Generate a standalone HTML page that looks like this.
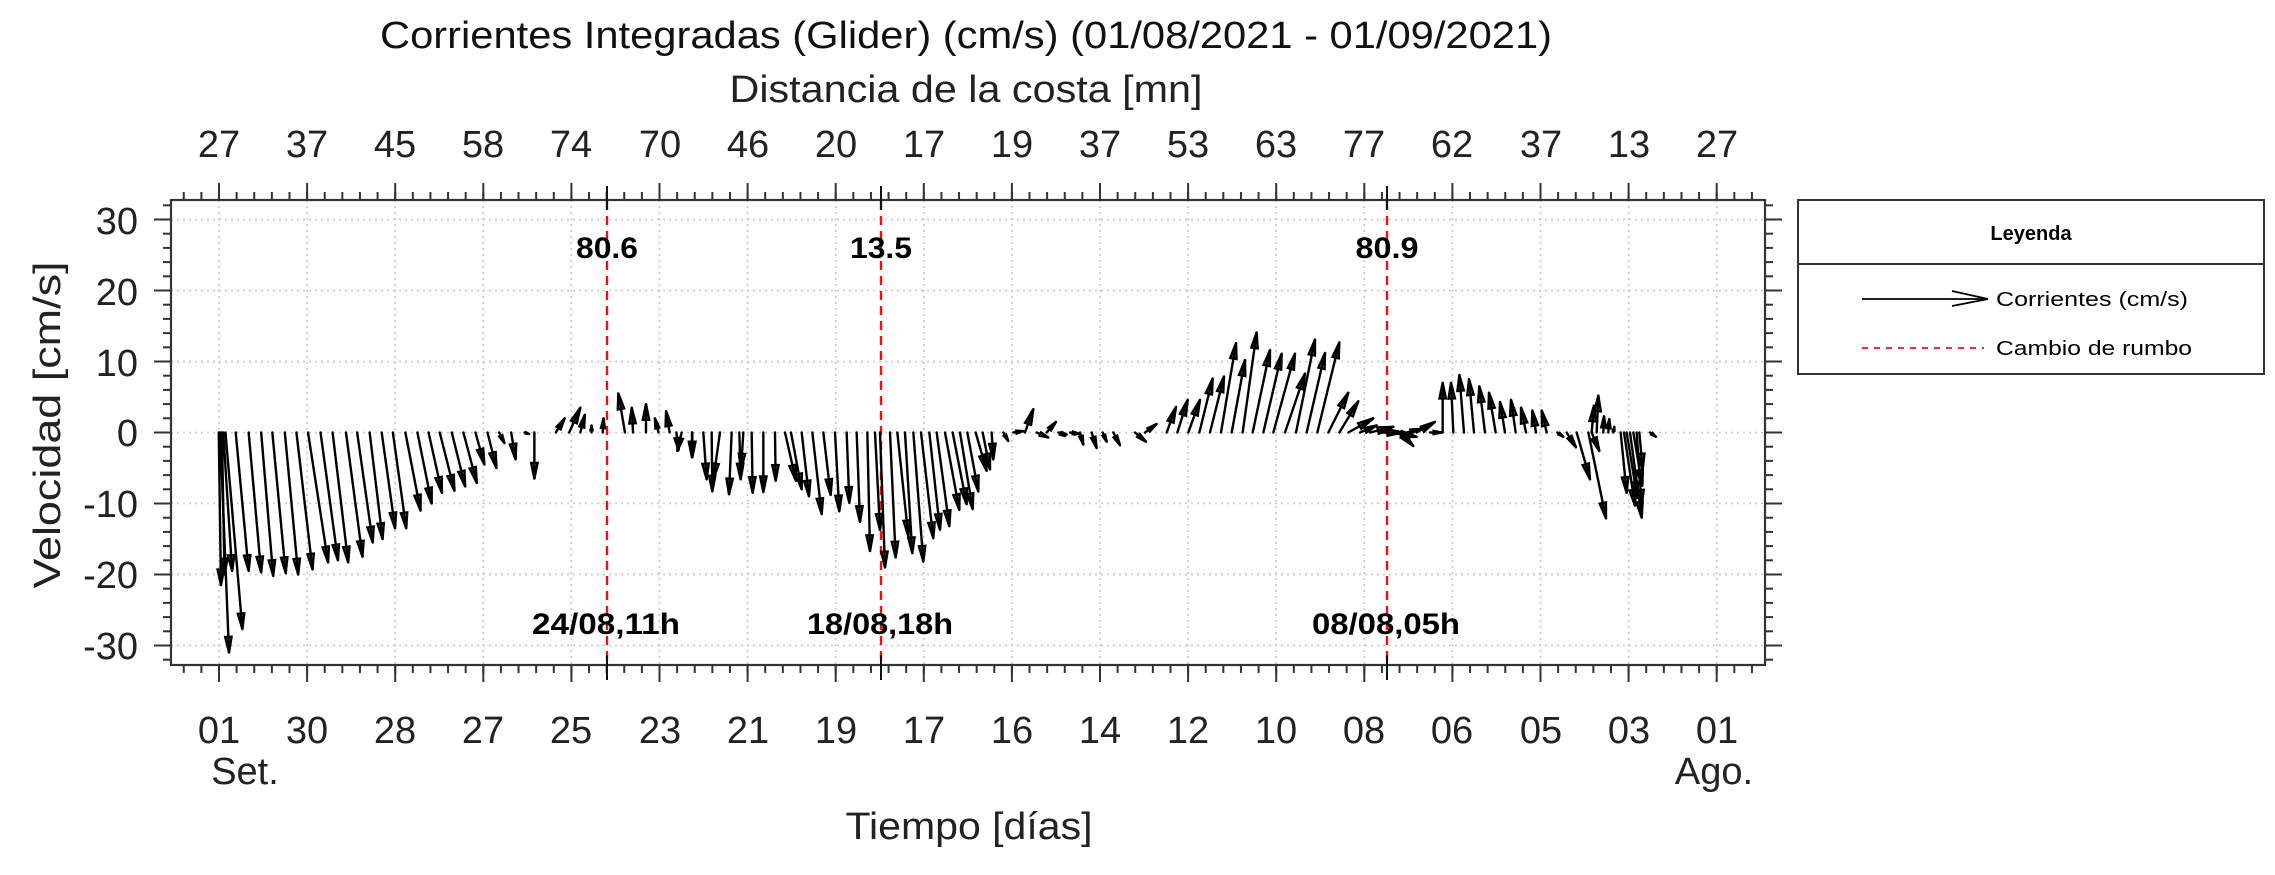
<!DOCTYPE html>
<html><head><meta charset="utf-8"><style>
html,body{margin:0;padding:0;background:#fff}
svg{display:block}
text{font-family:"Liberation Sans",Arial,sans-serif;fill:#222}
</style></head><body>
<svg id="s" xmlns="http://www.w3.org/2000/svg" width="2275" height="875" viewBox="0 0 2275 875">
<rect width="2275" height="875" fill="#fff"/>
<g id="grid" stroke="#c8c8c8" stroke-width="1.6" stroke-dasharray="2,4"></g>
<g id="ticks" stroke="#333" stroke-width="2"></g>
<rect x="171" y="200" width="1594" height="465" fill="none" stroke="#333" stroke-width="2.2"/>
<g stroke="#ee1111" stroke-width="2.4" stroke-dasharray="9,6">
<line x1="607" y1="201" x2="607" y2="664"/><line x1="881" y1="201" x2="881" y2="664"/><line x1="1387" y1="201" x2="1387" y2="664"/>
</g>
<g stroke="#111" stroke-width="2">
<line x1="607" y1="186" x2="607" y2="210"/><line x1="607" y1="655" x2="607" y2="680"/>
<line x1="881" y1="186" x2="881" y2="210"/><line x1="881" y1="655" x2="881" y2="680"/>
<line x1="1387" y1="186" x2="1387" y2="210"/><line x1="1387" y1="655" x2="1387" y2="680"/>
</g>
<g id="arrows" stroke="#000" stroke-width="2.4" fill="none" stroke-linecap="round" stroke-linejoin="miter"></g>

<text x="966" y="48" text-anchor="middle" font-size="38" textLength="1172" lengthAdjust="spacingAndGlyphs" style="fill:#111">Corrientes Integradas (Glider) (cm/s) (01/08/2021 - 01/09/2021)</text>
<text x="966" y="102" text-anchor="middle" font-size="38" textLength="473" lengthAdjust="spacingAndGlyphs">Distancia de la costa [mn]</text>
<g font-size="38" text-anchor="middle">
<text x="219" y="157">27</text><text x="307" y="157">37</text><text x="395" y="157">45</text><text x="483" y="157">58</text><text x="571" y="157">74</text><text x="660" y="157">70</text><text x="748" y="157">46</text><text x="836" y="157">20</text><text x="924" y="157">17</text><text x="1012" y="157">19</text><text x="1100" y="157">37</text><text x="1188" y="157">53</text><text x="1276" y="157">63</text><text x="1364" y="157">77</text><text x="1452" y="157">62</text><text x="1541" y="157">37</text><text x="1629" y="157">13</text><text x="1717" y="157">27</text>
<text x="219" y="743">01</text><text x="307" y="743">30</text><text x="395" y="743">28</text><text x="483" y="743">27</text><text x="571" y="743">25</text><text x="660" y="743">23</text><text x="748" y="743">21</text><text x="836" y="743">19</text><text x="924" y="743">17</text><text x="1012" y="743">16</text><text x="1100" y="743">14</text><text x="1188" y="743">12</text><text x="1276" y="743">10</text><text x="1364" y="743">08</text><text x="1452" y="743">06</text><text x="1541" y="743">05</text><text x="1629" y="743">03</text><text x="1717" y="743">01</text>
<text x="245" y="784">Set.</text><text x="1714" y="784">Ago.</text>
<text x="969" y="839" textLength="247" lengthAdjust="spacingAndGlyphs">Tiempo [días]</text>
</g>
<g font-size="38" text-anchor="end">
<text x="138" y="234">30</text><text x="138" y="305">20</text><text x="138" y="376">10</text><text x="138" y="446">0</text><text x="138" y="517">-10</text><text x="138" y="588">-20</text><text x="138" y="659">-30</text>
</g>
<text transform="translate(60,425) rotate(-90)" text-anchor="middle" font-size="38" textLength="327" lengthAdjust="spacingAndGlyphs">Velocidad [cm/s]</text>

<g font-size="30" font-weight="bold" text-anchor="middle" style="font-weight:bold">
<text x="607" y="258" textLength="62" lengthAdjust="spacingAndGlyphs" style="fill:#000">80.6</text>
<text x="881" y="258" textLength="62" lengthAdjust="spacingAndGlyphs" style="fill:#000">13.5</text>
<text x="1387" y="258" textLength="63" lengthAdjust="spacingAndGlyphs" style="fill:#000">80.9</text>
<text x="606" y="634" textLength="148" lengthAdjust="spacingAndGlyphs" style="fill:#000">24/08,11h</text>
<text x="880" y="634" textLength="146" lengthAdjust="spacingAndGlyphs" style="fill:#000">18/08,18h</text>
<text x="1386" y="634" textLength="148" lengthAdjust="spacingAndGlyphs" style="fill:#000">08/08,05h</text>
</g>

<rect x="1798" y="200" width="466" height="174" fill="none" stroke="#333" stroke-width="2"/>
<line x1="1798" y1="264" x2="2264" y2="264" stroke="#333" stroke-width="2"/>
<text x="2031" y="240" text-anchor="middle" font-size="20" font-weight="bold" style="fill:#000">Leyenda</text>
<line x1="1862" y1="299" x2="1988" y2="299" stroke="#000" stroke-width="1.8"/>
<polyline points="1952,291 1988,299 1952,306" fill="none" stroke="#000" stroke-width="1.8"/>
<text x="1996" y="306" font-size="20" textLength="192" lengthAdjust="spacingAndGlyphs" style="fill:#000">Corrientes (cm/s)</text>
<line x1="1862" y1="348" x2="1984" y2="348" stroke="#ee1111" stroke-width="1.8" stroke-dasharray="6,6"/>
<text x="1996" y="355" font-size="20" textLength="196" lengthAdjust="spacingAndGlyphs" style="fill:#000">Cambio de rumbo</text>
</svg>
<script>
(function(){
var NS="http://www.w3.org/2000/svg";
function el(p,t,a){var e=document.createElementNS(NS,t);for(var k in a)e.setAttribute(k,a[k]);p.appendChild(e);return e;}
var g=document.getElementById('grid'),tk=document.getElementById('ticks'),ar=document.getElementById('arrows');
var L=171,R=1765,T=200,B=665;
function Y(v){return 432.5-7.1*v;}
for(var i=0;i<18;i++){var x=219+88.1*i;el(g,'line',{x1:x,y1:T,x2:x,y2:B});
 el(tk,'line',{x1:x,y1:T,x2:x,y2:T-17});el(tk,'line',{x1:x,y1:B,x2:x,y2:B+17});}
for(var x=219-88.1/5*2;x<R;x+=88.1/5){if(x<L)continue;el(tk,'line',{x1:x,y1:T,x2:x,y2:T-8});el(tk,'line',{x1:x,y1:B,x2:x,y2:B+8});}
for(var v=-32;v<=32;v+=2){var y=Y(v);var mj=(v%10===0);
 if(mj)el(g,'line',{x1:L,y1:y,x2:R,y2:y});
 el(tk,'line',{x1:L,y1:y,x2:L-(mj?17:8),y2:y});el(tk,'line',{x1:R,y1:y,x2:R+(mj?17:8),y2:y});}
function arrow(x0,x1,v0,v1){var y0=Y(v0),y1=Y(v1);
 el(ar,'line',{x1:x0,y1:y0,x2:x1,y2:y1});
 var len=Math.hypot(x1-x0,y1-y0);if(len<4)return;
 var a=Math.atan2(y1-y0,x1-x0),h=Math.min(16,len*0.7),s=0.2;
 el(ar,'polygon',{points:(x1-h*Math.cos(a-s))+','+(y1-h*Math.sin(a-s))+' '+x1+','+y1+' '+(x1-h*Math.cos(a+s))+','+(y1-h*Math.sin(a+s)),fill:'#000','fill-opacity':'0.35'});}
var r1=[[490,495,-21.5],[493,513,-31],[497,503,-20],[505,543,-27.7],[500,520,-19.5],[528,557,-19.5],[557,585,-19.7],[585,612,-20.2],[610,640,-19.8],[638,668,-20],[664,700,-19.3],[690,735,-18.3],[718,757,-18],[745,780,-18.3],[775,812,-17.5],[800,835,-15.5],[828,857,-15],[855,885,-13.5],[880,910,-13.5],[908,942,-11],[935,967,-10],[960,990,-8.5],[985,1018,-8.2],[1012,1042,-7.6],[1038,1068,-7.1],[1065,1085,-4.5],[1092,1112,-5],[1118,1130,-1.5],[1145,1155,-3.8],[1175,1185,-0.2],[1197,1197,-6.5],
[1245,1265,2],[1275,1300,3.5],[1300,1310,2.5],[1325,1325,1],[1350,1352,2],[1400,1385,5.5],[1418,1415,3.5],[1447,1447,4],[1475,1467,2],[1500,1492,3],[1515,1520,-2.5],[1550,1550,-3.5]];
r1.forEach(function(a){arrow(a[0]/2.24,a[1]/2.24,0,a[2]);});
var r2=[[65,52,-2.6],[97,97,-3.5],[130,140,-6.6],[155,157,-8.3],[180,160,-6.6],[215,207,-8.7],[238,242,-6.6],[250,243,-5.2],[275,278,-8.5],[310,310,-8.4],[345,347,-6.8],[375,408,-6.8],[393,425,-8],[425,447,-9],[457,485,-11.5],[490,512,-8.8],[525,538,-11.1],[560,568,-9.9],[590,600,-12.6],[622,630,-16.7],[645,660,-13.7],[660,675,-19],[690,707,-17.6],[712,745,-14.6],[735,757,-17],[760,790,-18.2],[783,820,-14.9],[808,840,-13.7],[830,868,-13.2],[855,898,-10.9],[878,920,-10.1],[900,938,-10.8],[922,955,-8.3],[947,980,-5.4],[968,990,-5.2],[995,1000,-3.8],[1030,1045,-1.2],[1060,1090,0.2],[1095,1120,3.3],[1130,1165,-0.7],[1160,1188,1.5],[1195,1215,-0.5],[1230,1258,-0.2]];
r2.forEach(function(a){arrow(660+a[0]/3,660+a[1]/3,0,a[2]);});
var r3=[[0,20,-0.3],[35,45,-0.3],[60,70,-1.7],[95,110,-2.2],[128,140,-1.3],[160,180,-1.8],[225,258,-1.3],[255,290,1.2],[320,348,3.6],[352,383,4.6],[385,420,4.6],[418,458,7.6],[450,492,7.9],[483,528,12.6],[515,555,10.2],[548,590,14.1],[578,630,11.6],[610,665,11.1],[640,705,11.1],[675,735,8.3],[708,765,13.1],[740,795,11.2],[772,838,12.7],[805,865,5.6],[838,895,4.4],[865,940,2],[900,950,1],[930,1000,0.8],[960,1030,0],[990,1070,-0.6],[1020,1060,-1.9],[1040,1080,0.5],[1070,1125,1.5],[1110,1145,0]];
r3.forEach(function(a){arrow(1060+a[0]/3,1060+a[1]/3,0,a[2]);});
var r4=[[128,128,7],[160,153,7],[192,178,8.1],[222,207,7.5],[255,238,6.5],[287,267,5.6],[315,300,4.3],[347,333,4.6],[378,363,3.5],[408,397,3.1],[440,425,3.1],[472,490,-0.6],[500,528,-2.1],[530,570,-6.6],[565,618,-12.1],[575,598,-2.6],[575,582,3.8],[590,595,5.2],[610,612,2.3],[625,628,1.9],[640,643,0.8],[662,680,-8.5],[672,705,-10.3],[680,712,-9.2],[690,725,-12],[700,727,-7.5],[710,725,-10.3],[718,728,-5.2],[750,768,-0.6]];
r4.forEach(function(a){arrow(1400+a[0]/3,1400+a[1]/3,0,a[2]);});
})();
</script>
</body></html>
